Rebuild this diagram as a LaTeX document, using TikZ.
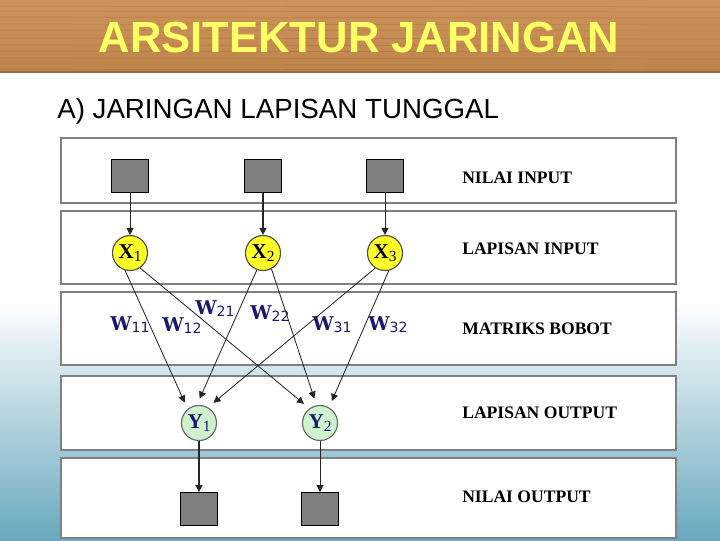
\documentclass[tikz,border=0pt]{standalone}
\usepackage{fontspec}
\setmainfont{Liberation Serif}
\setsansfont{Liberation Sans}
\newfontfamily\wfont{DejaVu Serif}
\newfontfamily\subfont{DejaVu Sans}
\usetikzlibrary{arrows.meta,positioning}

\definecolor{wood}{RGB}{190,132,76}
\definecolor{woodlight}{RGB}{204,148,90}
\definecolor{woodgrain}{RGB}{160,102,52}
\definecolor{titleyellow}{RGB}{255,255,102}
\definecolor{panelgray}{RGB}{128,128,128}
\definecolor{xyellow}{RGB}{255,255,40}
\definecolor{ygreen}{RGB}{206,242,206}
\definecolor{navy}{RGB}{25,25,110}
\definecolor{seablue}{RGB}{104,168,190}

\newcommand{\wsub}[1]{W\raisebox{-1.5pt}{\subfont\mdseries\fontsize{10}{10}\selectfont #1}}
\newcommand{\nsub}[2]{\textbf{#1}\raisebox{-2.5pt}{\mdseries\fontsize{11}{11}\selectfont #2}}

\begin{document}
\begin{tikzpicture}[
    x=0.025cm, y=-0.025cm,
    panel/.style={draw=panelgray, line width=1.4pt, fill=white,
        minimum width=15.375cm, inner sep=0pt},
    valuebox/.style={draw=black, line width=0.6pt, fill=panelgray,
        minimum width=0.925cm, minimum height=0.825cm, inner sep=0pt},
    inneuron/.style={circle, draw=black!70, line width=0.8pt, fill=xyellow,
        minimum size=0.875cm, inner sep=0pt, font=\fontsize{15}{15}\selectfont},
    outneuron/.style={circle, draw=black!60, line width=0.8pt, fill=ygreen,
        minimum size=0.875cm, inner sep=0pt, font=\fontsize{15}{15}\selectfont, text=navy},
    weight/.style={text=navy, inner sep=0pt, font=\wfont\bfseries\fontsize{13.5}{13.5}\selectfont},
    layerlabel/.style={anchor=west, inner sep=0pt, font=\bfseries\fontsize{12.5}{12.5}\selectfont},
    arrow/.style={-{Triangle[length=5pt,width=5pt]}, line width=0.6pt, draw=black!85}
]

\useasboundingbox (0,0) rectangle (720,540);
\fill[white] (0,0) rectangle (720,540);
\shade[top color=white, bottom color=seablue] (0,300) rectangle (720,540);
\shade[top color=woodlight, bottom color=wood] (0,0) rectangle (720,72);
\foreach \gy/\gop in {6/0.35, 11/0.25, 17/0.4, 24/0.3, 30/0.25, 38/0.35, 45/0.3, 51/0.4, 58/0.3, 64/0.35, 69/0.5}
    \draw[woodgrain, line width=0.5pt, opacity=\gop] (0,\gy) -- (720,\gy+1);
\draw[woodgrain, line width=1pt] (0,72) -- (720,72);

\node[font=\sffamily\bfseries\fontsize{31}{31}\selectfont, text=titleyellow] (title) at (359,37)
    {ARSITEKTUR JARINGAN};
\node[font=\sffamily\fontsize{19.7}{19.7}\selectfont, anchor=west, inner sep=0pt] (subtitle) at (57,111)
    {A) JARINGAN LAPISAN TUNGGAL};

\node[panel, minimum height=1.625cm] (band1) at (368.5,170.5) {};
\node[panel, minimum height=1.825cm] (band2) at (368.5,247.5) {};
\node[panel, minimum height=1.825cm] (band3) at (368.5,328.5) {};
\node[panel, minimum height=1.85cm] (band4) at (368.5,413) {};
\node[panel, minimum height=2.0cm] (band5) at (368.5,498) {};

\node[layerlabel] (lblinput) at (462,178) {NILAI INPUT};
\node[layerlabel] (lblinlayer) at (462,249) {LAPISAN INPUT};
\node[layerlabel] (lblweights) at (462,329) {MATRIKS BOBOT};
\node[layerlabel] (lbloutlayer) at (462,413) {LAPISAN OUTPUT};
\node[layerlabel] (lbloutput) at (462,497) {NILAI OUTPUT};

\node[valuebox] (in1) at (130,176) {};
\node[valuebox] (in2) at (263,176) {};
\node[valuebox] (in3) at (385,176) {};

\node[inneuron] (x1) at (130,253) {\nsub{X}{1}};
\node[inneuron] (x2) at (263,253) {\nsub{X}{2}};
\node[inneuron] (x3) at (385,253) {\nsub{X}{3}};

\node[outneuron] (y1) at (199,423) {\nsub{Y}{1}};
\node[outneuron] (y2) at (320,423) {\nsub{Y}{2}};

\node[valuebox] (out1) at (199,509) {};
\node[valuebox] (out2) at (320,509) {};

\node[weight] (w11) at (130,325) {\wsub{11}};
\node[weight] (w12) at (182,326) {\wsub{12}};
\node[weight] (w21) at (215,309) {\wsub{21}};
\node[weight] (w22) at (270,314) {\wsub{22}};
\node[weight] (w31) at (332,325) {\wsub{31}};
\node[weight] (w32) at (388,325) {\wsub{32}};

\draw[arrow] (in1) -- (x1);
\draw[arrow, line width=1pt] (in2) -- (x2);
\draw[arrow] (in3) -- (x3);

\draw[arrow, shorten >=5pt] (x1.254) -- (y1.129);
\draw[arrow, shorten >=5pt] (x1.304) -- (y2.126);
\draw[arrow, shorten >=5pt] (x2.250) -- (y1.97);
\draw[arrow, shorten >=5pt] (x2.298) -- (y2.101);
\draw[arrow, shorten >=5pt] (x3.237) -- (y1.60);
\draw[arrow, shorten >=5pt] (x3.282) -- (y2.60);

\draw[arrow, line width=1pt] (y1) -- (out1);
\draw[arrow] (y2) -- (out2);

\end{tikzpicture}
\end{document}
